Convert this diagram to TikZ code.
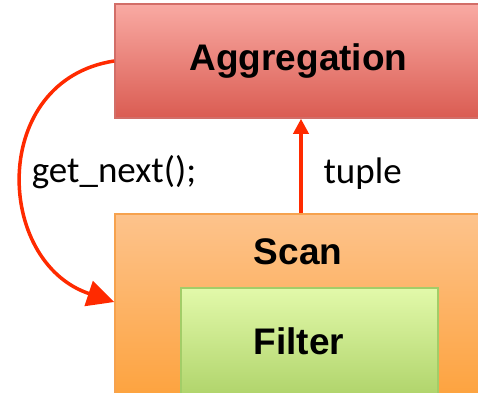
\documentclass[tikz,border=0pt]{standalone}
\usepackage{fontspec}
\setmainfont{Carlito}
\newfontfamily\boitefont{Liberation Sans}
\usetikzlibrary{arrows.meta}
\definecolor{aggtop}{HTML}{F9AAA3}
\definecolor{aggbas}{HTML}{DA5C52}
\definecolor{aggbord}{HTML}{D26E68}
\definecolor{scantop}{HTML}{FDC38C}
\definecolor{scanbas}{HTML}{FDA33F}
\definecolor{scanbord}{HTML}{F6A24E}
\definecolor{filtretop}{HTML}{E2F9AA}
\definecolor{filtrebas}{HTML}{B0D46B}
\definecolor{filtrebord}{HTML}{A2CD68}
\definecolor{rouge}{HTML}{FF2A00}
\begin{document}
\begin{tikzpicture}[x=1pt,y=-1pt]
		\tikzstyle{boite}=[draw, line width=1.5pt, inner sep=0pt]
		\tikzstyle{titre}=[font=\boitefont\bfseries\fontsize{37}{44}\selectfont]
		\tikzstyle{etiquette}=[font=\fontsize{37}{44}\selectfont]
		\tikzstyle{fleche}=[draw=rouge, line width=3.5pt]
		\clip (0,0) rectangle (478,392);
		\node[boite, titre, draw=aggbord, top color=aggtop, bottom color=aggbas, minimum width=367pt, minimum height=114pt] (agg) at (298.5,61) {Aggregation}; % haut
		\node[boite, draw=scanbord, top color=scantop, bottom color=scanbas, minimum width=367pt, minimum height=182pt] (scan) at (298.5,305) {}; % bas
		\node[boite, draw=filtrebord, top color=filtretop, bottom color=filtrebas, minimum width=257pt, minimum height=108pt] (filtre) at (309.5,342) {}; % dedans
		\node[titre, anchor=base] (scanlbl) at (298,264) {Scan};
		\node[titre, anchor=base] (filtrelbl) at (299,354) {Filter};
		\node[etiquette, anchor=base] (getnext) at (114,182) {get\_next();};
		\node[etiquette, anchor=base west] (tuple) at (320,183) {tuple};
		\draw[fleche, -{Triangle[length=15pt,width=15pt]}] ([xshift=2.5pt]scan.north) -- ([xshift=2.5pt]agg.south);
		\draw[fleche, -{Triangle[length=27pt,width=26pt]}] (agg.west) .. controls +(-125,19) and +(-120,-40) .. ([yshift=3pt]scan.west);
	\end{tikzpicture}
\end{document}
